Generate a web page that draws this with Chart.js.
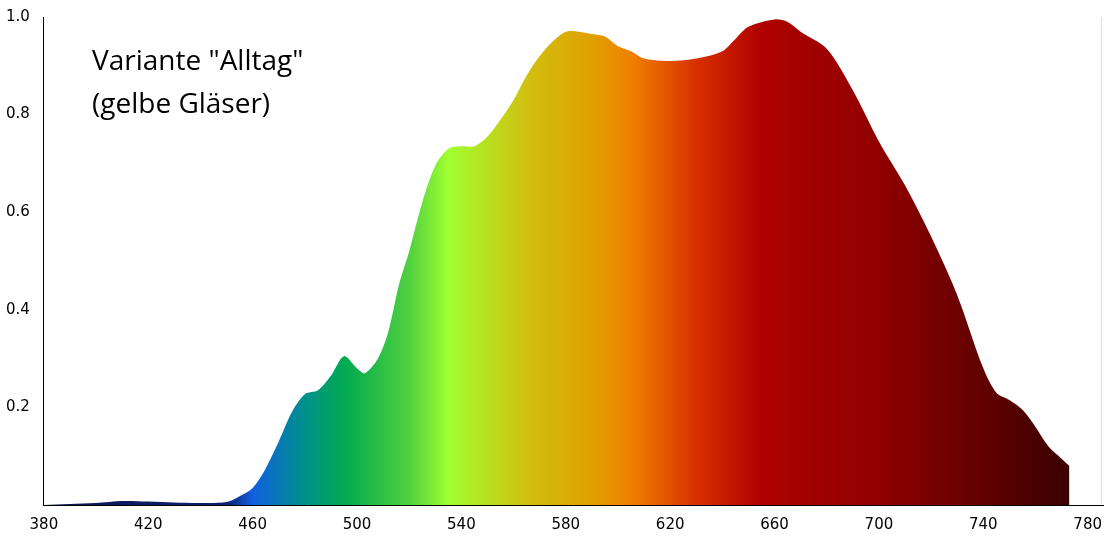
<!DOCTYPE html>
<html>
<head>
<meta charset="utf-8">
<script src="https://cdn.jsdelivr.net/npm/chart.js@4/dist/chart.umd.min.js"></script>
<style>
  body { margin: 0; background: #fff; }
  #wrap { width: 1105px; height: 537px; }
</style>
</head>
<body>
<div id="wrap"><canvas id="chart"></canvas></div>
<script>
// wavelength (nm) and relative transmission
const wavelengths = [380, 390, 400, 410, 420, 430, 440, 450, 455, 460, 465, 470, 475, 480, 485, 490, 495, 500, 503, 508, 512, 516, 520, 525, 530, 535, 540, 545, 550, 555, 560, 565, 570, 575, 580, 585, 590, 595, 600, 605, 610, 620, 630, 640, 645, 650, 660, 665, 670, 680, 690, 700, 710, 720, 730, 740, 745, 750, 755, 760, 765, 770, 773];
const values = [0.0, 0.002, 0.004, 0.008, 0.007, 0.005, 0.004, 0.006, 0.018, 0.035, 0.075, 0.13, 0.19, 0.227, 0.235, 0.265, 0.305, 0.28, 0.27, 0.30, 0.355, 0.45, 0.52, 0.62, 0.695, 0.73, 0.735, 0.735, 0.755, 0.79, 0.83, 0.88, 0.92, 0.95, 0.97, 0.97, 0.965, 0.96, 0.94, 0.93, 0.915, 0.91, 0.915, 0.93, 0.955, 0.98, 0.995, 0.99, 0.97, 0.935, 0.85, 0.745, 0.655, 0.55, 0.43, 0.28, 0.23, 0.215, 0.195, 0.16, 0.12, 0.095, 0.08];
const xTicks = [380, 420, 460, 500, 540, 580, 620, 660, 700, 740, 780];
const yTicks = [0.2, 0.4, 0.6, 0.8, 1.0];

// spectrum colours along the wavelength axis
const spectrum = [
  [380, '#0a1650'], [450, '#0a2070'], [460, '#1060e0'], [480, '#00908a'],
  [495, '#00aa50'], [520, '#50d040'], [535, '#a0ff30'], [565, '#d0c010'],
  [590, '#e0a000'], [605, '#f08000'], [630, '#d83000'], [655, '#b00000'],
  [700, '#900000'], [775, '#380000']
];

function fillGradient(context) {
  const chart = context.chart;
  const area = chart.chartArea;
  if (!area) return '#900000';
  const xs = chart.scales.x;
  const g = chart.ctx.createLinearGradient(area.left, 0, area.right, 0);
  const w = area.right - area.left;
  spectrum.forEach(([nm, c]) => {
    const p = (xs.getPixelForValue(nm) - area.left) / w;
    g.addColorStop(Math.min(1, Math.max(0, p)), c);
  });
  return g;
}

const label = {
  id: 'label',
  afterDraw(chart) {
    const ctx = chart.ctx;
    ctx.save();
    ctx.fillStyle = '#000';
    ctx.font = '28px "Open Sans", sans-serif';
    ctx.textBaseline = 'alphabetic';
    ctx.fillText('Variante "Alltag"', 92, 70);
    ctx.fillText('(gelbe Gläser)', 92, 113);
    ctx.strokeStyle = '#ddd';
    ctx.beginPath();
    ctx.moveTo(chart.chartArea.right - 2, chart.chartArea.top);
    ctx.lineTo(chart.chartArea.right - 2, chart.chartArea.bottom);
    ctx.stroke();
    ctx.restore();
  }
};

new Chart(document.getElementById('chart'), {
  type: 'line',
  data: {
    datasets: [{
      data: wavelengths.map((w, i) => ({ x: w, y: values[i] })),
      fill: 'origin',
      backgroundColor: fillGradient,
      borderWidth: 0,
      pointRadius: 0,
      tension: 0.3
    }]
  },
  options: {
    responsive: true,
    maintainAspectRatio: false,
    animation: false,
    layout: { padding: { top: 17, right: 0, left: 0, bottom: 0 } },
    plugins: { legend: { display: false }, tooltip: { enabled: false } },
    scales: {
      x: {
        type: 'linear', min: 380, max: 786,
        afterBuildTicks: s => { s.ticks = xTicks.map(v => ({ value: v })); },
        grid: { display: false, drawTicks: true },
        border: { color: '#000' },
        ticks: { color: '#000', font: { size: 15, family: 'DejaVu Sans' }, maxRotation: 0, padding: 3 }
      },
      y: {
        min: 0, max: 1.0,
        afterBuildTicks: s => { s.ticks = yTicks.map(v => ({ value: v })); },
        grid: { display: false },
        border: { color: '#000' },
        ticks: { color: '#000', font: { size: 15, family: 'DejaVu Sans' }, padding: 6,
          callback: v => v.toFixed(1) }
      }
    }
  },
  plugins: [label]
});
</script>
</body>
</html>
